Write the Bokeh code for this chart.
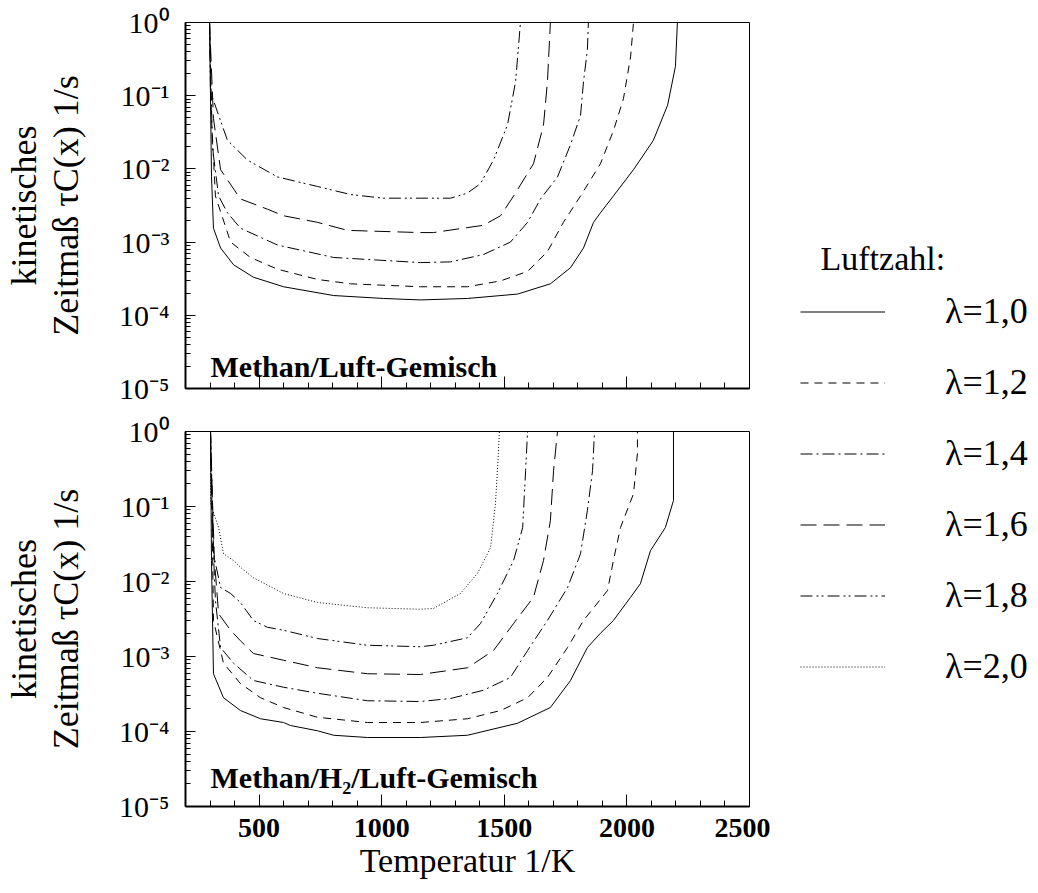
from bokeh.plotting import figure
from bokeh.models import (Range1d, LogTicker, SingleIntervalTicker, CustomJSTickFormatter,
                          Label, Legend, LegendItem, Title)
from bokeh.layouts import row, column
from bokeh.embed import file_html
from bokeh.resources import INLINE

SERIF = "Liberation Serif"

# ---------------- data (temperature in K, log10 of tau_c) ----------------
lambdas = ["λ=1,0", "λ=1,2", "λ=1,4", "λ=1,6", "λ=1,8", "λ=2,0"]
dashes = ["solid", "8 6", "12 4 2 4", "16 7", "12 4 2 3 2 4", "1 2"]

# Panel 1: Methan/Luft-Gemisch
top_T_10 = [298, 306, 314, 343, 396, 477, 600, 804, 1007, 1158, 1350, 1554, 1688, 1770, 1823, 1864, 1892, 1945, 2027, 2108, 2166, 2198, 2206]
top_e_10 = [0, -2.1, -2.81, -3.08, -3.31, -3.48, -3.61, -3.73, -3.77, -3.79, -3.77, -3.71, -3.57, -3.35, -3.08, -2.73, -2.60, -2.37, -2.01, -1.61, -1.13, -0.6, 0]
top_T_12 = [298, 306, 322, 384, 465, 575, 738, 873, 1158, 1350, 1485, 1595, 1676, 1741, 1811, 1892, 1945, 1986, 2015, 2027]
top_e_12 = [0, -1.31, -2.37, -3.0, -3.21, -3.37, -3.51, -3.57, -3.61, -3.61, -3.53, -3.40, -3.13, -2.73, -2.37, -1.93, -1.48, -1.04, -0.47, 0]
top_T_14 = [298, 310, 335, 371, 424, 575, 804, 1158, 1281, 1415, 1525, 1595, 1648, 1717, 1770, 1811, 1823, 1839, 1843]
top_e_14 = [0, -1.71, -2.37, -2.60, -2.81, -3.04, -3.21, -3.28, -3.27, -3.17, -3.0, -2.73, -2.41, -2.11, -1.67, -1.27, -0.81, -0.37, 0]
top_T_16 = [298, 314, 343, 424, 534, 600, 738, 861, 1158, 1211, 1415, 1485, 1538, 1619, 1660, 1676, 1688]
top_e_16 = [0, -1.31, -2.01, -2.41, -2.55, -2.64, -2.73, -2.84, -2.87, -2.87, -2.77, -2.64, -2.37, -1.93, -1.40, -0.81, 0]
top_T_18 = [298, 302, 371, 453, 575, 738, 873, 1007, 1158, 1281, 1350, 1403, 1456, 1513, 1546, 1566]
top_e_18 = [0, -0.95, -1.61, -1.88, -2.11, -2.24, -2.35, -2.40, -2.40, -2.40, -2.33, -2.20, -1.88, -1.40, -0.81, 0]

# Panel 2: Methan/H2/Luft-Gemisch
bot_T_10 = [302, 306, 314, 355, 424, 506, 600, 628, 738, 804, 942, 1158, 1350, 1554, 1688, 1770, 1839, 1892, 1945, 2015, 2055, 2096, 2157, 2190, 2190]
bot_e_10 = [0, -1.72, -3.23, -3.55, -3.72, -3.83, -3.88, -3.92, -3.99, -4.05, -4.08, -4.08, -4.05, -3.89, -3.68, -3.32, -2.88, -2.69, -2.52, -2.21, -2.03, -1.59, -1.28, -0.92, 0]
bot_T_12 = [302, 310, 314, 355, 424, 506, 600, 738, 942, 1158, 1350, 1485, 1595, 1676, 1758, 1823, 1921, 1945, 1974, 2027, 2043, 2043]
bot_e_12 = [0, -1.45, -2.52, -3.09, -3.36, -3.55, -3.68, -3.81, -3.88, -3.88, -3.83, -3.72, -3.55, -3.28, -2.88, -2.52, -2.12, -1.72, -1.28, -0.83, -0.29, 0]
bot_T_14 = [302, 310, 322, 343, 396, 477, 600, 738, 942, 1158, 1281, 1415, 1525, 1595, 1676, 1758, 1811, 1839, 1860, 1868]
bot_e_14 = [0, -1.32, -2.25, -2.88, -3.09, -3.32, -3.41, -3.49, -3.59, -3.60, -3.56, -3.45, -3.28, -2.92, -2.52, -2.08, -1.63, -1.05, -0.52, 0]
bot_T_16 = [302, 310, 318, 335, 384, 424, 477, 600, 738, 942, 1158, 1350, 1456, 1538, 1619, 1660, 1688, 1701, 1717]
bot_e_16 = [0, -0.92, -1.72, -2.43, -2.65, -2.79, -2.96, -3.05, -3.15, -3.23, -3.24, -3.15, -2.92, -2.56, -2.21, -1.72, -1.19, -0.52, 0]
bot_T_18 = [302, 310, 314, 343, 384, 424, 477, 534, 600, 738, 942, 1158, 1211, 1350, 1403, 1472, 1538, 1575, 1587, 1595]
bot_e_18 = [0, -0.92, -1.63, -2.08, -2.16, -2.28, -2.52, -2.61, -2.65, -2.76, -2.85, -2.87, -2.85, -2.75, -2.56, -2.16, -1.72, -1.28, -0.52, 0]
bot_T_20 = [302, 302, 335, 355, 396, 424, 477, 600, 738, 942, 1158, 1211, 1321, 1391, 1444, 1464, 1476, 1480]
bot_e_20 = [0, -0.96, -1.28, -1.63, -1.72, -1.81, -1.95, -2.16, -2.28, -2.35, -2.37, -2.36, -2.16, -1.89, -1.55, -0.96, -0.29, 0]

top_series = [(top_T_10, top_e_10), (top_T_12, top_e_12), (top_T_14, top_e_14),
              (top_T_16, top_e_16), (top_T_18, top_e_18)]
bot_series = [(bot_T_10, bot_e_10), (bot_T_12, bot_e_12), (bot_T_14, bot_e_14),
              (bot_T_16, bot_e_16), (bot_T_18, bot_e_18), (bot_T_20, bot_e_20)]

panel_titles = ["Methan/Luft-Gemisch", "Methan/H₂/Luft-Gemisch"]
ytitle_line1 = "kinetisches"
ytitle_line2 = "Zeitmaß τC(x) 1/s"

sup_fmt_code = """
const e = Math.round(Math.log10(tick));
const m = {'-':'⁻','0':'⁰','1':'¹','2':'²','3':'³','4':'⁴','5':'⁵','6':'⁶','7':'⁷','8':'⁸','9':'⁹'};
return '10' + String(e).split('').map(c => m[c]).join('');
"""


def make_panel(height, b_top, b_bottom, series, title, title_y, show_x):
    p = figure(width=770, height=height, x_range=Range1d(200, 2500), y_range=Range1d(1e-5, 1),
               y_axis_type="log", output_backend="svg", toolbar_location=None, title=None,
               min_border_left=185, min_border_right=21, min_border_top=b_top,
               min_border_bottom=b_bottom)
    p.grid.visible = False
    p.outline_line_color = "black"
    p.outline_line_width = 1
    p.background_fill_color = "white"

    ya = p.yaxis[0]
    ya.ticker = LogTicker(desired_num_ticks=6, num_minor_ticks=10)
    ya.formatter = CustomJSTickFormatter(code=sup_fmt_code)
    ya.axis_line_width = 2
    ya.major_tick_in = 10
    ya.major_tick_out = 0
    ya.minor_tick_in = 5
    ya.minor_tick_out = 0
    ya.major_label_standoff = 16
    ya.major_label_text_font = SERIF
    ya.major_label_text_font_size = "30px"
    ya.major_label_text_color = "black"
    ya.axis_label = ytitle_line2
    ya.axis_label_text_font = SERIF
    ya.axis_label_text_font_size = "36px"
    ya.axis_label_text_font_style = "normal"
    ya.axis_label_text_color = "black"
    ya.axis_label_standoff = 30

    p.add_layout(Title(text=ytitle_line1, align="center", text_font=SERIF,
                       text_font_size="36px", text_font_style="normal",
                       text_color="black", standoff=0, offset=0), "left")

    xa = p.xaxis[0]
    xa.ticker = SingleIntervalTicker(interval=500, num_minor_ticks=5)
    xa.axis_line_width = 2
    xa.major_tick_in = 12
    xa.major_tick_out = 0
    xa.minor_tick_in = 6
    xa.minor_tick_out = 0
    if show_x:
        xa.major_label_standoff = 12
        xa.major_label_text_font = SERIF
        xa.major_label_text_font_size = "28px"
        xa.major_label_text_font_style = "bold"
        xa.major_label_text_color = "black"
        xa.axis_label = "Temperatur 1/K"
        xa.axis_label_text_font = SERIF
        xa.axis_label_text_font_size = "34px"
        xa.axis_label_text_font_style = "normal"
        xa.axis_label_text_color = "black"
        xa.axis_label_standoff = 2
    else:
        xa.formatter = CustomJSTickFormatter(code="return ''")
        xa.major_label_standoff = 0

    for (T, e), dash in zip(series, dashes):
        p.line(T, [10 ** v for v in e], line_color="black", line_width=1, line_dash=dash)

    p.add_layout(Label(x=25, y=title_y, x_units="screen", y_units="screen", text=title,
                       text_font=SERIF, text_font_size="30px", text_font_style="bold",
                       text_color="black", text_baseline="alphabetic"))
    return p


p1 = make_panel(409, 22, 21, top_series, panel_titles[0], 22, False)
p2 = make_panel(484, 22, 87, bot_series, panel_titles[1], 29, True)

# legend panel
leg = figure(width=268, height=893, output_backend="svg", toolbar_location=None, title=None,
             x_axis_type=None, y_axis_type=None, min_border=0, outline_line_color=None,
             x_range=Range1d(0, 1), y_range=Range1d(0, 1))
leg.grid.visible = False
items = []
for name, dash in zip(lambdas, dashes):
    r = leg.line(x=[-5, -4], y=[-5, -5], line_color="black", line_width=1, line_dash=dash)
    items.append(LegendItem(label=name, renderers=[r]))
legend = Legend(items=items, location=(30, 206), padding=0, margin=0,
                border_line_alpha=0, background_fill_alpha=0,
                glyph_width=85, glyph_height=39, label_height=39, spacing=29,
                label_standoff=60, label_text_font=SERIF, label_text_font_size="36px",
                label_text_color="black")
leg.add_layout(legend)
leg.add_layout(Label(x=50, y=635, x_units="screen", y_units="screen", text="Luftzahl:",
                     text_font=SERIF, text_font_size="34px", text_color="black",
                     text_baseline="middle"))

layout = row(column(p1, p2), leg)

with open("out.html", "w", encoding="utf-8") as f:
    f.write(file_html(layout, INLINE))
